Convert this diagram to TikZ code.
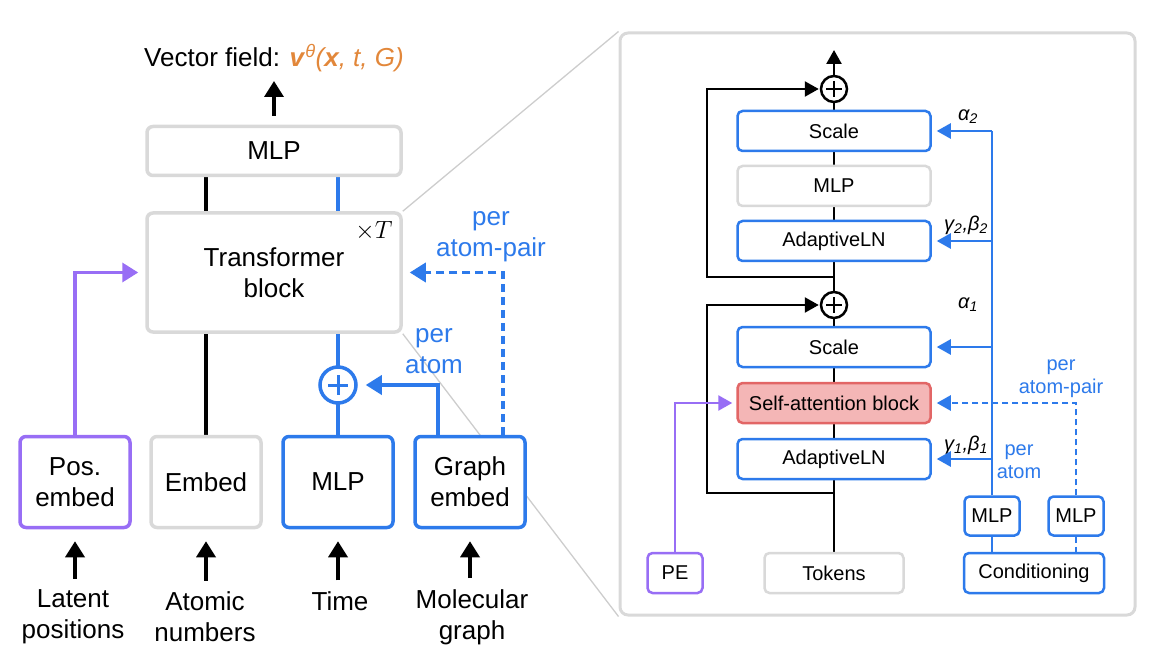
\documentclass[tikz,border=0pt]{standalone}
\usepackage{fontspec}
\setmainfont{Liberation Sans}
\usetikzlibrary{arrows.meta,calc}
\definecolor{myblue}{RGB}{45,122,235}
\definecolor{mypurple}{RGB}{152,110,245}
\definecolor{boxgray}{RGB}{217,217,217}
\definecolor{zoomgray}{RGB}{205,205,205}
\definecolor{myorange}{RGB}{226,135,58}
\definecolor{redfill}{RGB}{244,182,182}
\definecolor{redline}{RGB}{226,102,102}
\pgfdeclarelayer{bg}
\pgfdeclarelayer{panelbg}
\pgfsetlayers{panelbg,bg,main}
\begin{document}
\begin{tikzpicture}[x=1pt,y=-1pt,
  big/.style={font=\fontsize{26}{31}\selectfont},
  small/.style={font=\fontsize{20}{23}\selectfont},
  lbox/.style={draw, line width=3.5pt, rounded corners=6pt, fill=white, inner sep=0pt, align=center, big},
  graybox/.style={lbox, draw=boxgray},
  bluebox/.style={lbox, draw=myblue},
  purpbox/.style={lbox, draw=mypurple},
  botbox/.style={minimum width=110pt, minimum height=91pt},
  ibox/.style={draw, line width=2.5pt, rounded corners=5pt, fill=white, inner sep=0pt, small},
  wide/.style={minimum width=193pt, minimum height=40pt},
  iblue/.style={ibox, draw=myblue},
  igray/.style={ibox, draw=boxgray},
  ipurp/.style={ibox, draw=mypurple},
  lblk/.style={line width=3.5pt, black},
  lblu/.style={line width=3.5pt, myblue},
  lpur/.style={line width=3.5pt, mypurple},
  iblk/.style={line width=2.5pt, black},
  iblu/.style={line width=2.5pt, myblue},
  ipur/.style={line width=2.5pt, mypurple},
  bigtip/.style={-{Triangle[length=16pt,width=19pt]}},
  smalltip/.style={-{Triangle[length=14pt,width=15pt]}},
  dsh/.style={dash pattern=on 8pt off 5pt},
  idsh/.style={dash pattern=on 6pt off 4pt},
  lbl/.style={big, align=center, inner sep=0pt},
  bluelbl/.style={big, align=center, inner sep=0pt, text=myblue},
  ilbl/.style={small, align=center, inner sep=0pt},
  greek/.style={inner sep=0pt, font=\fontsize{20}{23}\selectfont\itshape},
  zoomline/.style={line width=1.3pt, zoomgray},
  plus/.style={circle, fill=white, inner sep=0pt}
]
\useasboundingbox (0,0) rectangle (1157,663);

% ---------- panel ----------
\begin{pgfonlayer}{panelbg}
\node[draw=boxgray, line width=3pt, rounded corners=8pt, fill=white, minimum width=515pt, minimum height=582pt, inner sep=0pt] (panel) at (877.5,324) {};
\end{pgfonlayer}

% ---------- left part ----------
\node[big, anchor=west, inner sep=0pt] (title) at (144,58) {Vector field: \textcolor{myorange}{\textbf{\textit{v}}\textsuperscript{\textit{θ}}\textit{(\textbf{x}, t, G)}}};
\node[graybox, minimum width=254pt, minimum height=49pt] (mlpTop) at (274,151) {MLP};
\node[graybox, minimum width=254pt, minimum height=119pt] (trans) at (274,272.5) {Transformer\\block};
\node[big, inner sep=0pt] (times) at (374,231) {$\times T$};

\node[purpbox, botbox] (pos) at (75,482) {Pos.\\embed};
\node[graybox, botbox] (emb) at (206,482) {Embed};
\node[bluebox, botbox] (mlpT) at (338,482) {MLP};
\node[bluebox, botbox] (graph) at (470,482) {Graph\\embed};

\node[plus, draw=myblue, line width=3.5pt, minimum size=36pt] (plusL) at (338,385) {};
\draw[myblue, line width=3pt] ($(plusL.center)+(-10,0)$) -- ($(plusL.center)+(10,0)$)
  ($(plusL.center)+(0,-10)$) -- ($(plusL.center)+(0,10)$);

\node[lbl] (in1) at (73,617) {Latent\\positions};
\node[lbl] (in2) at (205,617) {Atomic\\numbers};
\node[lbl] (in3) at (340,601) {Time};
\node[lbl] (in4) at (472,617) {Molecular\\graph};

\node[bluelbl] (perPair) at (491,237) {per\\atom-pair};
\node[bluelbl] (perAtom) at (434,351) {per\\atom};

% ---------- inner panel ----------
\node[iblue, wide] (scale2) at (834,131) {Scale};
\node[igray, wide] (mlpIn) at (834,186) {MLP};
\node[iblue, wide] (aln2) at (834,241) {AdaptiveLN};
\node[iblue, wide] (scale1) at (834,347) {Scale};
\node[ibox, draw=redline, fill=redfill, wide] (sa) at (834,403) {Self-attention block};
\node[iblue, wide] (aln1) at (834,459) {AdaptiveLN};
\node[igray, minimum width=139pt, minimum height=40pt] (tokens) at (834,573) {Tokens};
\node[ipurp, minimum width=55pt, minimum height=40pt] (pe) at (675,573) {PE};
\node[iblue, minimum width=140pt, minimum height=40pt] (cond) at (1034,573) {Conditioning};
\node[iblue, minimum width=55pt, minimum height=39pt] (mlpA) at (992,516) {MLP};
\node[iblue, minimum width=55pt, minimum height=39pt] (mlpB) at (1076,516) {MLP};

\node[plus, draw=black, line width=2.5pt, minimum size=26pt] (plusTop) at (834,89) {};
\node[plus, draw=black, line width=2.5pt, minimum size=26pt] (plusMid) at (834,305) {};
\foreach \p in {plusTop,plusMid}{
  \draw[black, line width=2.2pt] ($(\p.center)+(-8,0)$) -- ($(\p.center)+(8,0)$)
    ($(\p.center)+(0,-8)$) -- ($(\p.center)+(0,8)$);
}

\node[greek] (a2) at (968,117) {α\textsubscript{2}};
\node[greek] (gb2) at (966,225) {γ\textsubscript{2},β\textsubscript{2}};
\node[greek] (a1) at (968,305) {α\textsubscript{1}};
\node[greek] (gb1) at (966,445) {γ\textsubscript{1},β\textsubscript{1}};
\node[ilbl, text=myblue] (iPair) at (1061,379) {per\\atom-pair};
\node[ilbl, text=myblue] (iAtom) at (1019,462) {per\\atom};

\coordinate (outTop) at (834,50);
\coordinate (skip1) at (834,493);
\coordinate (skip2) at (834,277);

% ---------- background lines ----------
\begin{pgfonlayer}{bg}
  \draw[zoomline] (trans.north east) -- (panel.north west);
  \draw[zoomline] (trans.south east) -- (panel.south west);
  \draw[lblk] (emb.center) -- (emb.center |- mlpTop.center);
  \draw[lblu] (mlpT.center) -- (mlpT.center |- mlpTop.center);
  \draw[iblk] (tokens.center) -- (plusTop.center);
  \draw[iblu] (mlpA.center) -- (mlpA.center |- cond.center);
  \draw[iblu, idsh] (mlpB.south) -- (mlpB.south |- cond.north);
\end{pgfonlayer}

% ---------- left connectors ----------
\draw[lblk, bigtip, shorten <=9pt, shorten >=9pt] (mlpTop.north) -- (mlpTop.north |- title.south);
\draw[lpur, bigtip, shorten >=7pt] (pos.north) |- (trans.west);
\draw[lblu, bigtip, shorten >=7pt, dsh] ([xshift=33pt]graph.north) |- (trans.east);
\draw[lblu, bigtip, shorten >=8pt] ([xshift=-32pt]graph.north) |- (plusL.east);
\foreach \b/\l in {pos/in1, emb/in2, mlpT/in3, graph/in4}{
  \draw[lblk, bigtip] (\b.south |- \l.north) ++(0,-11) -- ([yshift=-12pt]\b.south);
}

% ---------- inner connectors ----------
\draw[iblk, smalltip] (plusTop.north) -- (outTop);
\draw[iblk, smalltip, shorten >=1pt] (skip1) -- ++(-127,0) |- (plusMid.west);
\draw[iblk, smalltip, shorten >=1pt] (skip2) -- ++(-127,0) |- (plusTop.west);
\draw[iblu] (mlpA.north) -- (mlpA.north |- scale2.east);
\foreach \t in {scale2,aln2,scale1,aln1}{
  \draw[iblu, smalltip, shorten >=5pt] (mlpA.north |- \t.east) -- (\t.east);
}
\draw[iblu, idsh, smalltip, shorten >=5pt] (mlpB.north) |- (sa.east);
\draw[ipur, smalltip, shorten >=4pt] (pe.north) |- (sa.west);
\end{tikzpicture}
\end{document}
